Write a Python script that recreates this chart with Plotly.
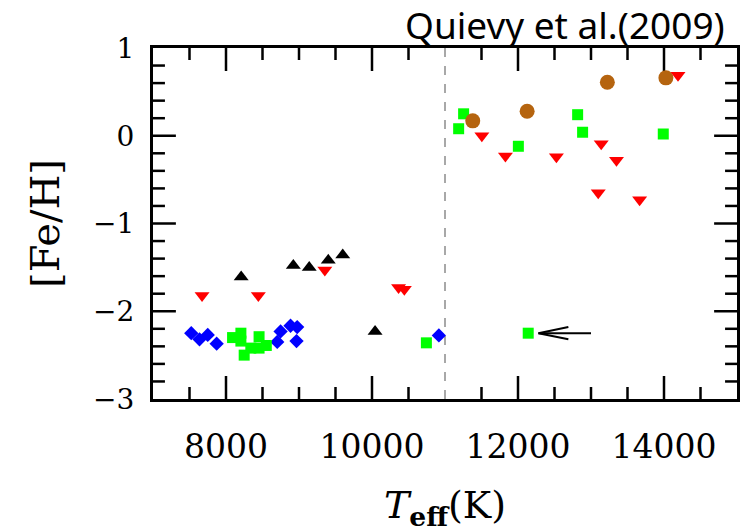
import plotly.graph_objects as go

# ---- data (Teff in K, [Fe/H]) ----
blue_T = [7524, 7637, 7750, 7872, 8702, 8748, 8884, 8975, 8966, 10916]
blue_FeH = [-2.25, -2.32, -2.27, -2.37, -2.35, -2.23, -2.165, -2.18, -2.34, -2.275]

green_T = [8090, 8204, 8204, 8249, 8340, 8453, 8453, 8552, 10745, 12140,
           11187, 11255, 12005, 12817, 12885, 13990]
green_FeH = [-2.30, -2.25, -2.34, -2.50, -2.42, -2.29, -2.42, -2.39, -2.36, -2.25,
             0.08, 0.25, -0.12, 0.24, 0.04, 0.02]

brown_T = [11380, 12125, 13224, 14026]
brown_FeH = [0.17, 0.28, 0.61, 0.66]

red_T = [7672, 8443, 9354, 10364, 10443, 11505, 11828, 12526, 13140, 13349,
         13099, 13666, 14192]
red_FeH = [-1.82, -1.82, -1.53, -1.73, -1.75, 0.0, -0.23, -0.24, -0.09, -0.28,
           -0.65, -0.73, 0.69]

black_T = [8208, 8922, 9140, 9401, 9599, 10042]
black_FeH = [-1.61, -1.48, -1.50, -1.42, -1.36, -2.23]

divide_T = 11000
arrow_tip = (12280, -2.25)
arrow_tail = (13000, -2.25)
arrow_wing_T = 12690
arrow_wing_dy = 0.07

x_range = [7000, 15000]
y_range = [-3, 1]
x_major_ticks = [8000, 10000, 12000, 14000]
x_minor_step = 500
y_major_ticks = [-3, -2, -1, 0, 1]
y_minor_step = 0.2

serif = "DejaVu Serif"

# figure geometry (pixels)
W, H = 746, 532
ML, MR, MT, MB = 153, 6, 48, 133
plot_w, plot_h = W - ML - MR, H - MT - MB
MAJ_PX, MIN_PX = 23, 12
x_per_px = (x_range[1] - x_range[0]) / plot_w
y_per_px = (y_range[1] - y_range[0]) / plot_h

fig = go.Figure()

# inward ticks on all four sides, as a line trace built from the tick values
tx, ty = [], []
n_x = int(round((x_range[1] - x_range[0]) / x_minor_step))
for i in range(1, n_x):
    xv = x_range[0] + i * x_minor_step
    if xv == divide_T:
        continue
    L = (MAJ_PX if xv in x_major_ticks else MIN_PX) * y_per_px
    tx += [xv, xv, None, xv, xv, None]
    ty += [y_range[0], y_range[0] + L, None, y_range[1], y_range[1] - L, None]
n_y = int(round((y_range[1] - y_range[0]) / y_minor_step))
for i in range(1, n_y):
    yv = round(y_range[0] + i * y_minor_step, 6)
    L = (MAJ_PX if any(abs(yv - m) < 1e-6 for m in y_major_ticks) else MIN_PX) * x_per_px
    tx += [x_range[0], x_range[0] + L, None, x_range[1], x_range[1] - L, None]
    ty += [yv, yv, None, yv, yv, None]
fig.add_trace(go.Scatter(x=tx, y=ty, mode="lines", line=dict(color="black", width=2.5),
                         hoverinfo="skip", connectgaps=False, cliponaxis=False))

fig.add_trace(go.Scatter(x=blue_T, y=blue_FeH, mode="markers",
                         marker=dict(symbol="diamond", size=11, color="#0000FF", line_width=0)))
fig.add_trace(go.Scatter(x=green_T, y=green_FeH, mode="markers",
                         marker=dict(symbol="square", size=11, color="#00FF00", line_width=0)))
fig.add_trace(go.Scatter(x=brown_T, y=brown_FeH, mode="markers",
                         marker=dict(symbol="circle", size=15, color="#B5640F", line_width=0)))
fig.add_trace(go.Scatter(x=red_T, y=red_FeH, mode="markers",
                         marker=dict(symbol="triangle-down", size=13, color="#FF0000", line_width=0)))
fig.add_trace(go.Scatter(x=black_T, y=black_FeH, mode="markers",
                         marker=dict(symbol="triangle-up", size=13, color="#000000", line_width=0)))

# dashed divider
fig.add_shape(type="line", x0=divide_T, x1=divide_T, y0=0, y1=1, xref="x", yref="paper",
              line=dict(color="#A8A8A8", width=2, dash="dash"), layer="below")

# arrow
fig.add_shape(type="line", x0=arrow_tail[0], y0=arrow_tail[1], x1=arrow_tip[0], y1=arrow_tip[1],
              line=dict(color="black", width=2))
fig.add_shape(type="path",
              path=f"M {arrow_wing_T},{arrow_tip[1] + arrow_wing_dy} L {arrow_tip[0]},{arrow_tip[1]} "
                   f"L {arrow_wing_T},{arrow_tip[1] - arrow_wing_dy}",
              line=dict(color="black", width=2))

fig.update_layout(
    xaxis=dict(range=x_range, tickmode="array", tickvals=x_major_ticks,
               ticktext=[str(v) for v in x_major_ticks],
               showline=True, linecolor="black", linewidth=3, mirror=True,
               ticks="", showgrid=False, zeroline=False,
               tickfont=dict(family=serif, size=33, color="black"),
               ticklabelstandoff=16,
               title=dict(text="<i>T</i><sub><b>eff</b></sub>(K)",
                          font=dict(family=serif, size=38, color="black"), standoff=28)),
    yaxis=dict(range=y_range, tickmode="array", tickvals=y_major_ticks,
               showline=True, linecolor="black", linewidth=3, mirror=True,
               ticks="", showgrid=False, zeroline=False,
               tickfont=dict(family=serif, size=28, color="black"),
               ticklabelstandoff=10,
               title=dict(text="[Fe/H]", font=dict(family=serif, size=40, color="black"), standoff=22)),
)

fig.add_annotation(text="Quievy et al.(2009)", xref="paper", yref="paper",
                   x=1.0, y=1.0, xanchor="right", yanchor="bottom", xshift=-10, yshift=-4,
                   showarrow=False,
                   font=dict(family="Noto Sans", size=37, color="black"))

fig.update_layout(
    width=W, height=H,
    margin=dict(l=ML, r=MR, t=MT, b=MB),
    plot_bgcolor="white", paper_bgcolor="white",
    showlegend=False,
)

fig.write_html("out.html")
